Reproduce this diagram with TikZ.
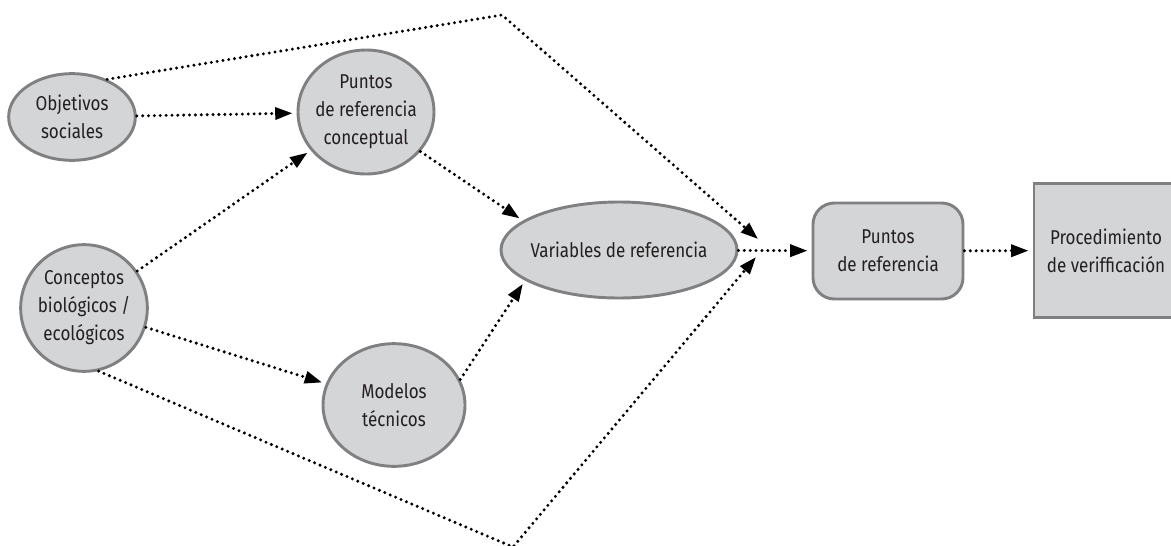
\documentclass[tikz,border=0pt]{standalone}
\usepackage{fontspec}
\setmainfont{Fira Sans}[FakeStretch=0.85]
\usetikzlibrary{shapes.geometric,arrows.meta}

\definecolor{boxfill}{RGB}{212,213,215}
\definecolor{boxline}{RGB}{128,128,130}
\definecolor{txtcol}{RGB}{35,31,32}

\tikzset{every picture/.style={line width=0.75pt}}
\tikzset{
  ell/.style={ellipse, draw=boxline, fill=boxfill, line width=2.2pt, inner sep=0pt},
  rbox/.style={rectangle, draw=boxline, fill=boxfill, line width=2.2pt, inner sep=0pt},
  lbl/.style={align=center, text=txtcol, inner sep=0pt, font=\fontsize{15pt}{21pt}\selectfont},
  dots/.style={line width=2.5pt, line cap=round, dash pattern=on 0pt off 4.4pt},
  tip/.style={-{Triangle[length=13pt,width=9pt]}, shorten >=3pt},
}

\begin{document}
\begin{tikzpicture}[x=0.75pt,y=0.75pt,yscale=-1,xscale=1]
	\useasboundingbox (0,0) rectangle (1171,546);

	%Shape: Ellipse [id:obj]
	\node [ell, minimum width=95pt, minimum height=65pt] (obj) at (72,117) {};
	\node [lbl] (objt) at (obj) {Objetivos\\sociales};
	%Shape: Ellipse [id:prc]
	\node [ell, minimum width=102pt, minimum height=93pt] (prc) at (366,112) {};
	\node [lbl] (prct) at (prc) {Puntos\\de referencia\\conceptual};
	%Shape: Ellipse [id:con]
	\node [ell, minimum width=95pt, minimum height=95pt] (con) at (84,308) {};
	\node [lbl] (cont) at (con) {Conceptos\\biológicos /\\ecológicos};
	%Shape: Ellipse [id:mod]
	\node [ell, minimum width=106.5pt, minimum height=92pt] (mod) at (394,405) {};
	\node [lbl] (modt) at (mod) {Modelos\\técnicos};
	%Shape: Ellipse [id:var]
	\node [ell, minimum width=177pt, minimum height=72pt] (var) at (619,250) {};
	\node [lbl] (vart) at (var) {Variables de referencia};
	%Shape: Rounded Rect [id:pref]
	\node [rbox, rounded corners=16pt, minimum width=112.5pt, minimum height=72pt] (pref) at (888,251) {};
	\node [lbl] (preft) at (pref) {Puntos\\de referencia};
	%Shape: Rectangle [id:proc]
	\node [rbox, minimum width=108pt, minimum height=100pt] (proc) at (1106,250.5) {};
	\node [lbl] (proct) at (proc) {Procedimiento\\de verifficación};

	%Straight Lines
	\coordinate (topk) at (502,15);
	\coordinate (topend) at (758,239);
	\coordinate (botk) at (513,547);
	\coordinate (botend) at (756,257);

	\draw [dots, tip] (obj) -- (prc);
	\draw [dots, tip] (con) -- (prc);
	\draw [dots, tip] (con) -- (mod);
	\draw [dots, tip] (prc.-36) -- (var.163);
	\draw [dots, tip] (mod.21) -- (var.198);
	\draw [dots, tip] (var) -- (pref);
	\draw [dots, tip] (pref) -- (proc);
	\draw [dots, -{Triangle[length=13pt,width=9pt]}] (obj.47) -- (topk) -- (topend);
	\draw [dots, -{Triangle[length=13pt,width=9pt]}] (con.-77) -- (botk) -- (botend);

\end{tikzpicture}
\end{document}
